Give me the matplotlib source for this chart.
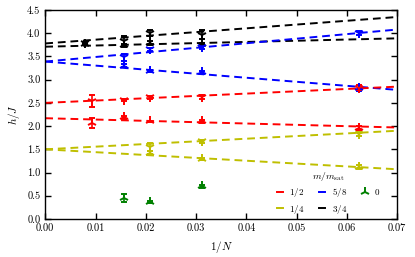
import numpy as np
import matplotlib
matplotlib.use('Agg')
import matplotlib.pyplot as plt
from matplotlib.lines import Line2D

plt.rcParams['font.family'] = 'serif'
plt.rcParams['font.serif'] = ['cmr10']
plt.rcParams['mathtext.fontset'] = 'cm'
plt.rcParams['axes.unicode_minus'] = False
plt.rcParams['axes.formatter.use_mathtext'] = True

# fit lines: value at 1/N = 0 and at 1/N = 0.07 (upper / lower branch)
fit_x = [0.0, 0.07]
black_up_fit = [3.78, 4.35]
black_lo_fit = [3.71, 3.89]
blue_up_fit = [3.39, 4.08]
blue_lo_fit = [3.39, 2.78]
red_up_fit = [2.50, 2.85]
red_lo_fit = [2.17, 1.97]
yel_up_fit = [1.50, 1.90]
yel_lo_fit = [1.50, 1.07]

# data points (1/N, h/J, error)
black_x = [1/128, 1/64, 1/48, 1/32]
black_up = [3.79, 3.83, 4.00, 3.97]
black_up_err = [0.02, 0.10, 0.06, 0.09]
black_lo = [3.77, 3.74, 3.79, 3.77]
black_lo_err = [0.02, 0.03, 0.04, 0.02]

blue_x = [1/64, 1/48, 1/32, 1/16]
blue_up = [3.48, 3.65, 3.70, 4.01]
blue_up_err = [0.08, 0.03, 0.03, 0.04]
blue_lo = [3.30, 3.19, 3.16, 2.82]
blue_lo_err = [0.03, 0.02, 0.03, 0.06]

red_x = [0.0093, 1/64, 1/48, 1/32, 1/16]
red_up = [2.54, 2.56, 2.62, 2.63, 2.83]
red_up_err = [0.13, 0.03, 0.03, 0.04, 0.06]
red_lo = [2.06, 2.19, 2.10, 2.10, 1.96]
red_lo_err = [0.11, 0.03, 0.02, 0.03, 0.04]

yel_x = [1/48, 1/32, 1/16]
yel_up = [1.55, 1.67, 1.83]
yel_up_err = [0.08, 0.03, 0.05]
yel_lo = [1.43, 1.29, 1.12]
yel_lo_err = [0.03, 0.03, 0.04]

green_x = [1/64, 1/48, 1/32]
green_y = [0.45, 0.37, 0.70]
green_err = [0.08, 0.02, 0.03]

fig = plt.figure(figsize=(4.15, 2.57), dpi=100)
ax = fig.add_axes([0.109, 0.148, 0.848, 0.813])

series = [
    ('k', black_x, black_up, black_up_err, black_lo, black_lo_err, black_up_fit, black_lo_fit),
    ('b', blue_x, blue_up, blue_up_err, blue_lo, blue_lo_err, blue_up_fit, blue_lo_fit),
    ('r', red_x, red_up, red_up_err, red_lo, red_lo_err, red_up_fit, red_lo_fit),
    ('y', yel_x, yel_up, yel_up_err, yel_lo, yel_lo_err, yel_up_fit, yel_lo_fit),
]
for c, x, yu, eu, yl, el, fu, fl in series:
    ax.plot(fit_x, fu, '--', color=c, lw=1.4, dashes=(4, 2.5))
    ax.plot(fit_x, fl, '--', color=c, lw=1.4, dashes=(4, 2.5))
    ax.errorbar(x, yu, yerr=eu, fmt='1', color=c, ms=7, mew=1.4, capsize=2.5, elinewidth=1.2)
    ax.errorbar(x, yl, yerr=el, fmt='2', color=c, ms=7, mew=1.4, capsize=2.5, elinewidth=1.2)

ax.errorbar(green_x, green_y, yerr=green_err, fmt='2', color='g', ms=7, mew=1.4, capsize=2.5, elinewidth=1.2)

ax.set_xlim(0, 0.07)
ax.set_ylim(0, 4.5)
ax.set_xticks(np.arange(0, 0.071, 0.01))
ax.set_yticks(np.arange(0, 4.51, 0.5))
ax.set_xticklabels(['%.2f' % v for v in np.arange(0, 0.071, 0.01)])
ax.set_yticklabels(['%.1f' % v for v in np.arange(0, 4.51, 0.5)])
ax.tick_params(direction='in', top=True, right=True, labelsize=7.5, length=4, width=1)
for s in ax.spines.values():
    s.set_linewidth(1)

ax.set_xlabel(r'$1/N$', fontsize=8)
ax.set_ylabel(r'$h/J$', fontsize=8)

handles = [
    Line2D([], [], color='r', lw=1.4),
    Line2D([], [], color='y', lw=1.4),
    Line2D([], [], color='b', lw=1.4),
    Line2D([], [], color='k', lw=1.4),
    Line2D([], [], color='g', marker='2', ls='none', ms=7, mew=1.4),
]
labels = [r'$1/2$', r'$1/4$', r'$5/8$', r'$3/4$', r'$0$']
ax.legend(handles, labels, title=r'$m/m_{\rm sat}$', ncol=3, loc='center',
          frameon=False, fontsize=6.5, title_fontsize=7, handlelength=0.7,
          columnspacing=1.6, handletextpad=0.7, labelspacing=0.35,
          borderpad=0, borderaxespad=0, bbox_to_anchor=(0.805, 0.125))

fig.savefig('out.png', dpi=100)
